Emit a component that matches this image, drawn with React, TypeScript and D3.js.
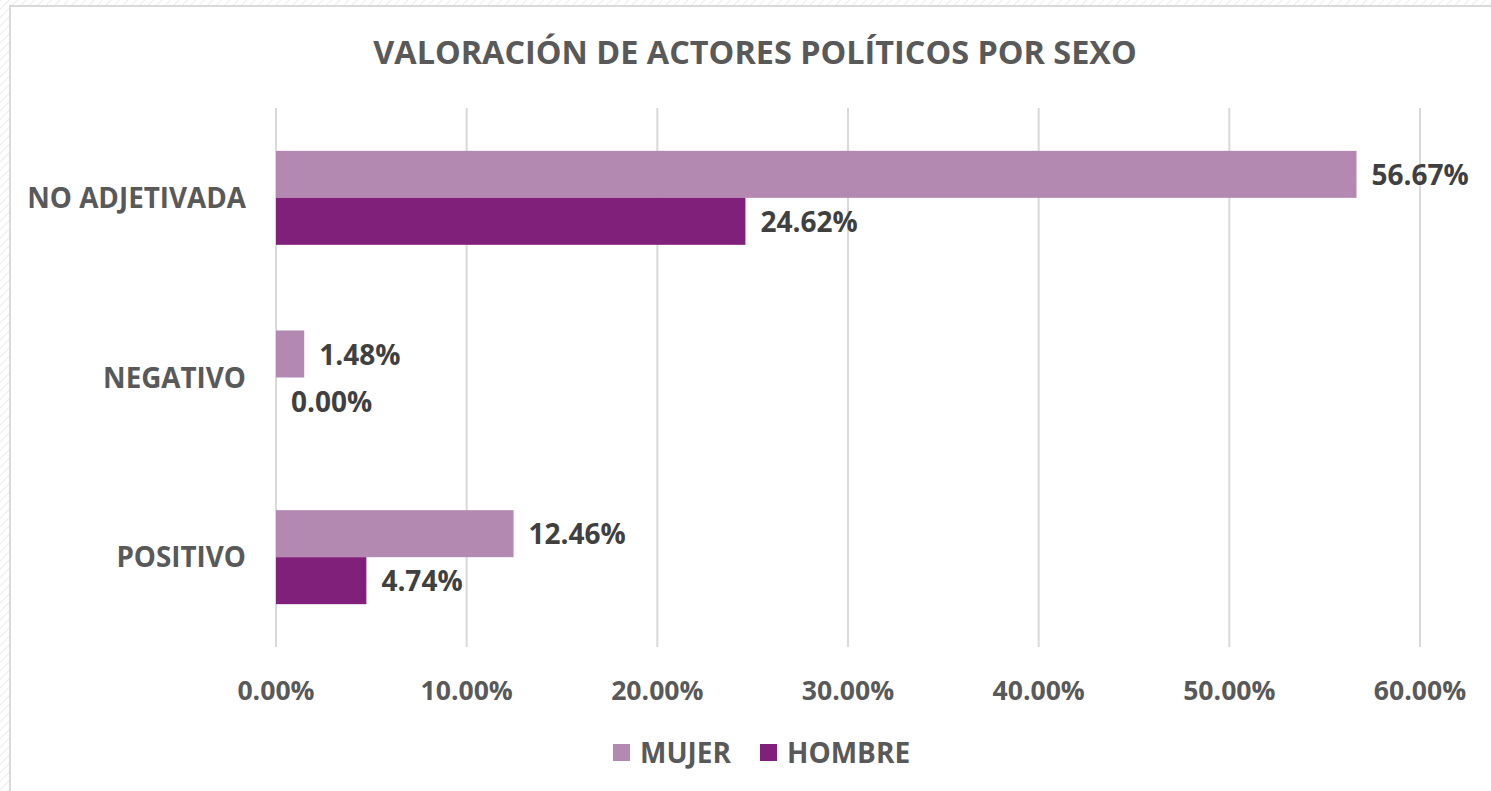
import React from "react";
import * as d3 from "d3";

const categories = ["NO ADJETIVADA", "NEGATIVO", "POSITIVO"];
const seriesNames = ["MUJER", "HOMBRE"];
const mujerValues = [56.67, 1.48, 12.46];
const hombreValues = [24.62, 0.0, 4.74];
const xTicks = [0, 10, 20, 30, 40, 50, 60];
const title = "VALORACIÓN DE ACTORES POLÍTICOS POR SEXO";

const W = 1491;
const H = 791;
const colors = ["#B388B1", "#80207A"];
const FONT = "'Open Sans', 'DejaVu Sans', sans-serif";

export default function App() {
  const plotLeft = 276;
  const plotRight = 1420;
  const plotTop = 108;
  const plotBottom = 647;

  const x = d3.scaleLinear().domain([0, 60]).range([plotLeft, plotRight]);
  const y = d3.scaleBand<string>().domain(categories).range([plotTop, plotBottom]).paddingInner(0).paddingOuter(0);
  const barH = 47;
  const series = [mujerValues, hombreValues];

  const fmt = (v: number) => v.toFixed(2) + "%";

  return (
    <svg
      width={W}
      height={H}
      style={{ position: "absolute", left: 0, top: 0, background: "#fff" }}
      fontFamily={FONT}
    >
      <defs>
        <pattern id="hatch" width="6" height="6" patternUnits="userSpaceOnUse" patternTransform="rotate(45)">
          <line x1="0" y1="0" x2="0" y2="6" stroke="#ececec" strokeWidth="2" />
        </pattern>
      </defs>
      <rect x={0} y={0} width={9} height={H} fill="url(#hatch)" />
      <rect x={0} y={0} width={W} height={5} fill="url(#hatch)" />
      <rect x={10} y={6} width={W + 10} height={H + 10} fill="#fff" stroke="#d9d9d9" strokeWidth={2} />

      <text x={755} y={64} textAnchor="middle" fontSize={32.4} fontWeight={700} fill="#595959">
        {title}
      </text>

      {xTicks.map((t) => (
        <g key={t}>
          <line x1={x(t)} x2={x(t)} y1={plotTop} y2={plotBottom} stroke="#d9d9d9" strokeWidth={2} />
          <text x={x(t)} y={700} textAnchor="middle" fontSize={26.6} fontWeight={700} fill="#595959">
            {fmt(t)}
          </text>
        </g>
      ))}

      {categories.map((c, i) => {
        const center = (y(c) as number) + y.bandwidth() / 2;
        return (
          <g key={c}>
            <text x={246} y={center + 10} textAnchor="end" fontSize={27.8} fontWeight={700} fill="#595959">
              {c}
            </text>
            {series.map((vals, s) => {
              const top = center - barH + s * barH;
              const v = vals[i];
              return (
                <g key={s}>
                  {v > 0 && (
                    <rect x={x(0)} y={top} width={x(v) - x(0)} height={barH} fill={colors[s]} />
                  )}
                  <text
                    x={x(v) + 15}
                    y={top + barH / 2 + 10.5}
                    textAnchor="start"
                    fontSize={28}
                    fontWeight={700}
                    fill="#404040"
                  >
                    {fmt(v)}
                  </text>
                </g>
              );
            })}
          </g>
        );
      })}

      {seriesNames.map((n, s) => {
        const lx = [613, 760][s];
        return (
          <g key={n}>
            <rect x={lx} y={744} width={17} height={17} fill={colors[s]} />
            <text x={lx + 27} y={762.5} fontSize={28} fontWeight={700} fill="#595959">
              {n}
            </text>
          </g>
        );
      })}
    </svg>
  );
}
